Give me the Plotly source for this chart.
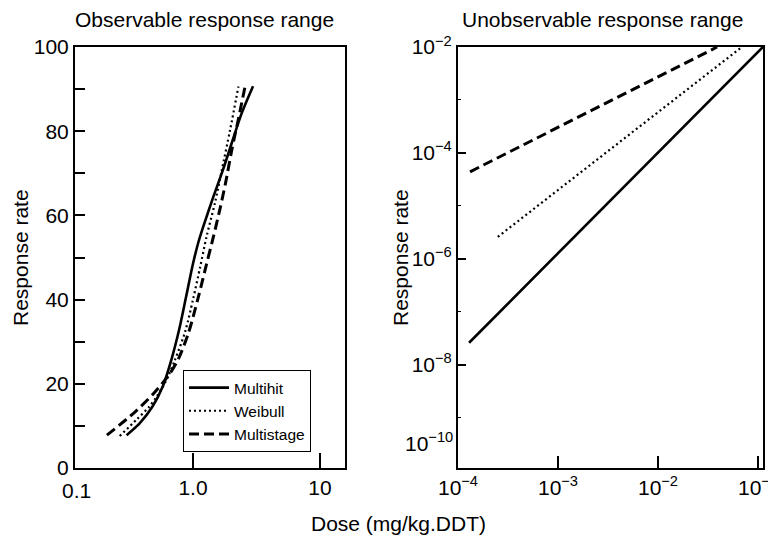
import plotly.graph_objects as go

# ---------------- data: observable range (left panel) ----------------
multihit_dose = [0.30, 0.38, 0.48, 0.58, 0.68, 0.78, 0.88, 1.0, 1.1, 1.21, 1.45, 1.73, 2.02, 2.42, 2.97]
multihit_rate = [7.8, 10.6, 14.6, 19.5, 26, 33, 40.5, 48.5, 53.5, 57.5, 64.5, 71, 77.2, 84.3, 90.7]

weibull_dose = [0.265, 0.36, 0.45, 0.52, 0.62, 0.72, 0.87, 1.0, 1.14, 1.28, 1.49, 1.68, 1.96, 2.28]
weibull_rate = [7.6, 11.5, 14.5, 17, 21, 25.6, 32.5, 40, 47.8, 55, 63, 70.5, 80.3, 90.6]

multistage_dose = [0.21, 0.34, 0.49, 0.66, 0.77, 0.92, 1.10, 1.28, 1.45, 1.63, 1.80, 2.02, 2.30, 2.57]
multistage_rate = [7.8, 13, 17.7, 22.5, 26, 32, 40.5, 48.5, 55, 61.5, 67.5, 75.5, 83.5, 90.6]

# ---------------- data: unobservable range (right panel) ----------------
multihit_low_dose = [1.29e-4, 0.112]
multihit_low_rate = [2.6e-8, 1e-2]
weibull_low_dose = [2.5e-4, 0.069]
weibull_low_rate = [2.6e-6, 1e-2]
multistage_low_dose = [1.32e-4, 0.039]
multistage_low_rate = [4.4e-5, 1e-2]

series_names = ["Multihit", "Weibull", "Multistage"]
left_ticks = [1.0, 10]
left_ticktext = ["1.0", "10"]
left_axis_start_label = "0.1"
right_xticks = [1e-4, 1e-3, 1e-2, 1e-1]
right_xtext = ["10<sup>−4</sup>", "10<sup>−3</sup>", "10<sup>−2</sup>", "10<sup>−1</sup>"]
right_yticks = [1e-2, 1e-4, 1e-6, 1e-8]
right_ytext = ["10<sup>−2</sup>", "10<sup>−4</sup>", "10<sup>−6</sup>", "10<sup>−8</sup>"]

# page offset of the figure inside the browser page (default body margin)
OFF = 8
W, H = 776 - OFF, 537 - OFF
FONT = "Liberation Sans, Arial, sans-serif"

styles = [
    dict(color="black", width=2.6, dash="solid"),
    dict(color="black", width=2.2, dash="2px,3px"),
    dict(color="black", width=3, dash="10px,5px"),
]

fig = go.Figure()
for name, xs, ys, st in zip(series_names,
                            [multihit_dose, weibull_dose, multistage_dose],
                            [multihit_rate, weibull_rate, multistage_rate], styles):
    fig.add_trace(go.Scatter(x=xs, y=ys, mode="lines", name=name,
                             line=dict(**st, shape="spline", smoothing=0.8),
                             xaxis="x", yaxis="y"))
for name, xs, ys, st in zip(series_names,
                            [multihit_low_dose, weibull_low_dose, multistage_low_dose],
                            [multihit_low_rate, weibull_low_rate, multistage_low_rate], styles):
    fig.add_trace(go.Scatter(x=xs, y=ys, mode="lines", name=name, line=st,
                             showlegend=False, xaxis="x2", yaxis="y2"))

def px_x(p):
    return (p - OFF) / W

def px_y(p):
    return (H - (p - OFF)) / H

ax_common = dict(showline=True, linecolor="black", linewidth=2, mirror=True,
                 showgrid=False, zeroline=False, ticks="inside", tickcolor="black",
                 automargin=False, ticklabeloverflow="allow",
                 tickfont=dict(family=FONT, size=21, color="black"))

fig.update_layout(
    width=W, height=H,
    margin=dict(l=0, r=0, t=0, b=0, autoexpand=False),
    paper_bgcolor="white", plot_bgcolor="white",
    font=dict(family=FONT, color="black"),
    xaxis=dict(**ax_common, type="log", domain=[px_x(75), px_x(345)],
               range=[-0.929, 1.197], tickvals=left_ticks, ticktext=left_ticktext,
               ticklen=15, tickwidth=2, anchor="y"),
    yaxis=dict(**ax_common, domain=[px_y(468), px_y(47)], range=[0, 100],
               tickvals=[0, 20, 40, 60, 80, 100], ticklen=10, tickwidth=1.5,
               minor=dict(dtick=10, ticks="inside", ticklen=10, tickcolor="black", tickwidth=1.5),
               anchor="x"),
    xaxis2=dict(**ax_common, type="log", domain=[px_x(458), px_x(763)],
                range=[-4, -0.95], tickvals=right_xticks, ticktext=right_xtext,
                ticklen=12, tickwidth=2, anchor="y2"),
    yaxis2=dict(**ax_common, type="log", domain=[px_y(468), px_y(47)],
                range=[-9.95, -2], tickvals=right_yticks, ticktext=right_ytext,
                ticklen=8, tickwidth=2,
                minor=dict(tickvals=[1e-3, 1e-5, 1e-7, 1e-9], ticks="inside", ticklen=3,
                           tickcolor="black", tickwidth=1),
                anchor="x2"),
    legend=dict(x=px_x(183), y=px_y(370), xanchor="left", yanchor="top",
                bordercolor="black", borderwidth=1, bgcolor="white",
                font=dict(family=FONT, size=15.5, color="black"),
                tracegroupgap=0, itemwidth=40),
    showlegend=True,
)

annotations = [
    dict(text="Observable response range", x=px_x(204), y=px_y(20)),
    dict(text="Unobservable response range", x=px_x(602), y=px_y(20)),
    dict(text="Dose (mg/kg.DDT)", x=px_x(398), y=px_y(523)),
    dict(text="Response rate", x=px_x(21), y=px_y(258), textangle=-90),
    dict(text="Response rate", x=px_x(401), y=px_y(258), textangle=-90),
]
for a in annotations:
    fig.add_annotation(xref="paper", yref="paper", showarrow=False,
                       xanchor="center", yanchor="middle",
                       font=dict(family=FONT, size=21, color="black"), **a)
# tick-style labels drawn at the positions used in the reference
fig.add_annotation(xref="paper", yref="paper", showarrow=False, text="10<sup>−10</sup>",
                   x=px_x(455), y=px_y(442), xanchor="right", yanchor="middle",
                   font=dict(family=FONT, size=21, color="black"))
fig.add_annotation(xref="paper", yref="paper", showarrow=False, text=left_axis_start_label,
                   x=px_x(76), y=px_y(490), xanchor="center", yanchor="middle",
                   font=dict(family=FONT, size=21, color="black"))

fig.write_html("out.html")
